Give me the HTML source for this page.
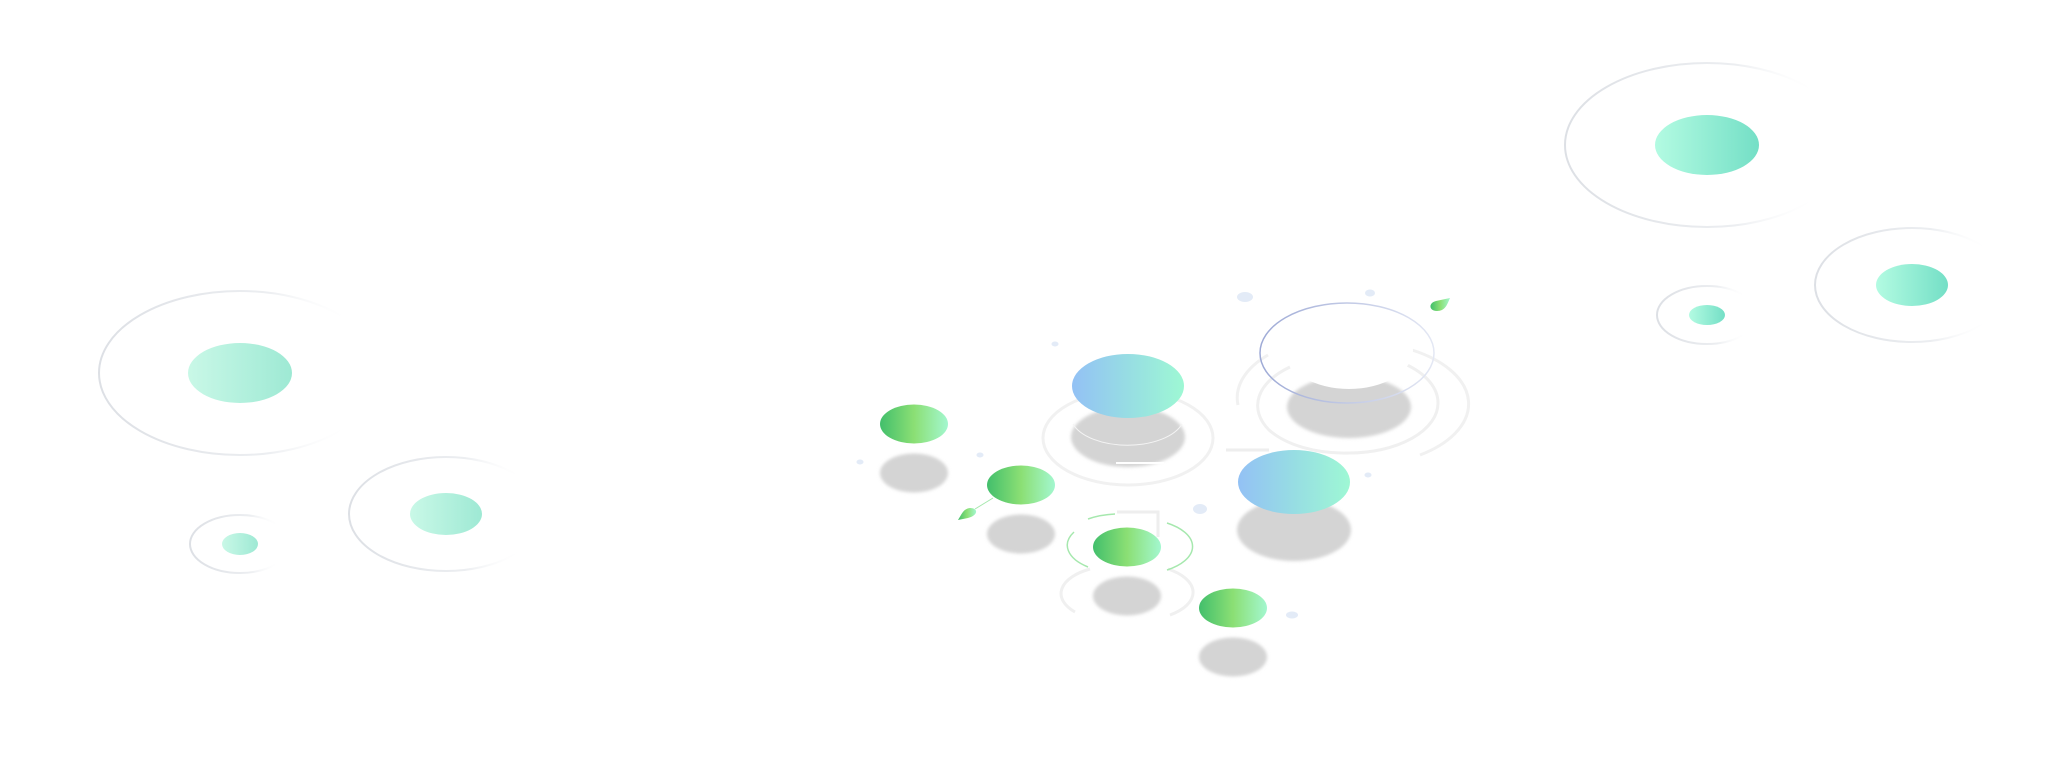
<!DOCTYPE html>
<html><head><meta charset="utf-8"><style>
html,body{margin:0;padding:0;background:#fff;}
svg{display:block;}
</style></head><body>
<svg width="2048" height="767" viewBox="0 0 2048 767" xmlns="http://www.w3.org/2000/svg">
<defs>
<linearGradient id="teal" x1="0" x2="1" y1="0" y2="0"><stop offset="0" stop-color="#c9f8e7"/><stop offset="1" stop-color="#9ee9d4"/></linearGradient>
<linearGradient id="teal2" x1="0" x2="1"><stop offset="0" stop-color="#b3fbe2"/><stop offset="1" stop-color="#74dfc6"/></linearGradient>
<linearGradient id="ringg" x1="0" x2="1"><stop offset="0" stop-color="#dde0e5"/><stop offset="0.6" stop-color="#eceef1"/><stop offset="0.9" stop-color="#fff" stop-opacity="0"/></linearGradient>
<linearGradient id="green" x1="0" x2="1"><stop offset="0" stop-color="#42bf6c"/><stop offset="0.5" stop-color="#8bdf74"/><stop offset="1" stop-color="#a3f7cf"/></linearGradient>
<linearGradient id="blue" x1="0" x2="1"><stop offset="0" stop-color="#93c1f5"/><stop offset="0.5" stop-color="#97dde3"/><stop offset="1" stop-color="#9ef8d4"/></linearGradient>
<linearGradient id="gring" x1="0" x2="1"><stop offset="0" stop-color="#9eaad6"/><stop offset="1" stop-color="#e4e8f4"/></linearGradient>
<filter id="bl" x="-20%" y="-20%" width="140%" height="140%"><feGaussianBlur stdDeviation="1.5"/></filter>
</defs>

<ellipse cx="240" cy="373" rx="141" ry="82" fill="none" stroke="url(#ringg)" stroke-width="2"/>
<ellipse cx="240" cy="373" rx="52" ry="30" fill="url(#teal)"/>
<ellipse cx="446" cy="514" rx="97" ry="57" fill="none" stroke="url(#ringg)" stroke-width="2"/>
<ellipse cx="446" cy="514" rx="36" ry="21" fill="url(#teal)"/>
<ellipse cx="240" cy="544" rx="50" ry="29" fill="none" stroke="url(#ringg)" stroke-width="2"/>
<ellipse cx="240" cy="544" rx="18" ry="11" fill="url(#teal)"/>

<ellipse cx="1707" cy="145" rx="142" ry="82" fill="none" stroke="url(#ringg)" stroke-width="2"/>
<ellipse cx="1707" cy="145" rx="52" ry="30" fill="url(#teal2)"/>
<ellipse cx="1912" cy="285" rx="97" ry="57" fill="none" stroke="url(#ringg)" stroke-width="2"/>
<ellipse cx="1912" cy="285" rx="36" ry="21" fill="url(#teal2)"/>
<ellipse cx="1707" cy="315" rx="50" ry="29" fill="none" stroke="url(#ringg)" stroke-width="2"/>
<ellipse cx="1707" cy="315" rx="18" ry="10" fill="url(#teal2)"/>

<ellipse cx="1128" cy="438" rx="85" ry="47" fill="none" stroke="#f1f1f1" stroke-width="3"/>
<path d="M1290 367 A89 50 0 0 0 1269 430 A89 50 0 0 0 1349 453 A89 50 0 0 0 1438 403 A89 50 0 0 0 1405 364" fill="none" stroke="#f0f0f0" stroke-width="3"/>
<path d="M1238 405 A112 62 0 0 1 1268 355" fill="none" stroke="#f1f1f1" stroke-width="3"/>
<path d="M1412 350 A112 62 0 0 1 1420 455" fill="none" stroke="#f1f1f1" stroke-width="3"/>
<line x1="1226" y1="450" x2="1269" y2="450" stroke="#eeeeee" stroke-width="3"/>
<path d="M1117 512 L1158 512 L1158 537" fill="none" stroke="#eeeeee" stroke-width="3"/>

<path d="M1090 569 A56 28 0 0 0 1075 612 M1168 569 A56 28 0 0 1 1170 615" fill="none" stroke="#f0f0f0" stroke-width="3"/>

<g filter="url(#bl)" fill="#d4d4d4">
<ellipse cx="1128" cy="437" rx="57" ry="30"/>
<ellipse cx="1349" cy="407" rx="62" ry="31"/>
<ellipse cx="1294" cy="530" rx="57" ry="31"/>
<ellipse cx="914" cy="473" rx="34" ry="19.5"/>
<ellipse cx="1021" cy="534" rx="34" ry="19.5"/>
<ellipse cx="1127" cy="596" rx="34" ry="19.5"/>
<ellipse cx="1233" cy="657" rx="34" ry="19.5"/>
</g>
<ellipse cx="1349" cy="350" rx="64" ry="39" fill="#fff"/>
<path d="M1073 424 A57 30 0 0 0 1182 424" fill="none" stroke="#f4f4f4" stroke-width="1"/>
<line x1="1116" y1="463" x2="1164" y2="463" stroke="#fff" stroke-width="2"/>

<path d="M1115 514 A56 28 0 0 0 1088 519 M1074 532 A56 28 0 0 0 1088 567 M1167 523 A56 28 0 0 1 1167 570" fill="none" stroke="#a6e8ae" stroke-width="1.5"/>

<ellipse cx="1128" cy="386" rx="56" ry="32" fill="url(#blue)"/>
<ellipse cx="1294" cy="482" rx="56" ry="32" fill="url(#blue)"/>
<ellipse cx="914" cy="424" rx="34" ry="19.5" fill="url(#green)"/>
<ellipse cx="1021" cy="485" rx="34" ry="19.5" fill="url(#green)"/>
<ellipse cx="1127" cy="547" rx="34" ry="19.5" fill="url(#green)"/>
<ellipse cx="1233" cy="608" rx="34" ry="19.5" fill="url(#green)"/>
<ellipse cx="1347" cy="353" rx="87" ry="50" fill="none" stroke="url(#gring)" stroke-width="1.5"/>

<g fill="#e3ebf7">
<ellipse cx="1245" cy="297" rx="8" ry="5"/>
<ellipse cx="1370" cy="293" rx="5" ry="3.5"/>
<ellipse cx="1055" cy="344" rx="3.5" ry="2.5"/>
<ellipse cx="980" cy="455" rx="3.5" ry="2.5"/>
<ellipse cx="860" cy="462" rx="3.5" ry="2.5"/>
<ellipse cx="1200" cy="509" rx="7" ry="5"/>
<ellipse cx="1368" cy="475" rx="3.5" ry="2.5"/>
<ellipse cx="1292" cy="615" rx="6" ry="3.5"/>
</g>
<path d="M1450 298 L1436 301 C1428 303 1429 311 1437 311 C1445 311 1447 305 1450 298 Z" fill="url(#green)"/>
<path d="M958 520 L968 518 C979 515 978 508 970 508 C963 509 962 514 958 520 Z" fill="url(#green)"/>
<line x1="975" y1="509" x2="993" y2="498" stroke="#a6e8ae" stroke-width="1"/>
</svg>
</body></html>
